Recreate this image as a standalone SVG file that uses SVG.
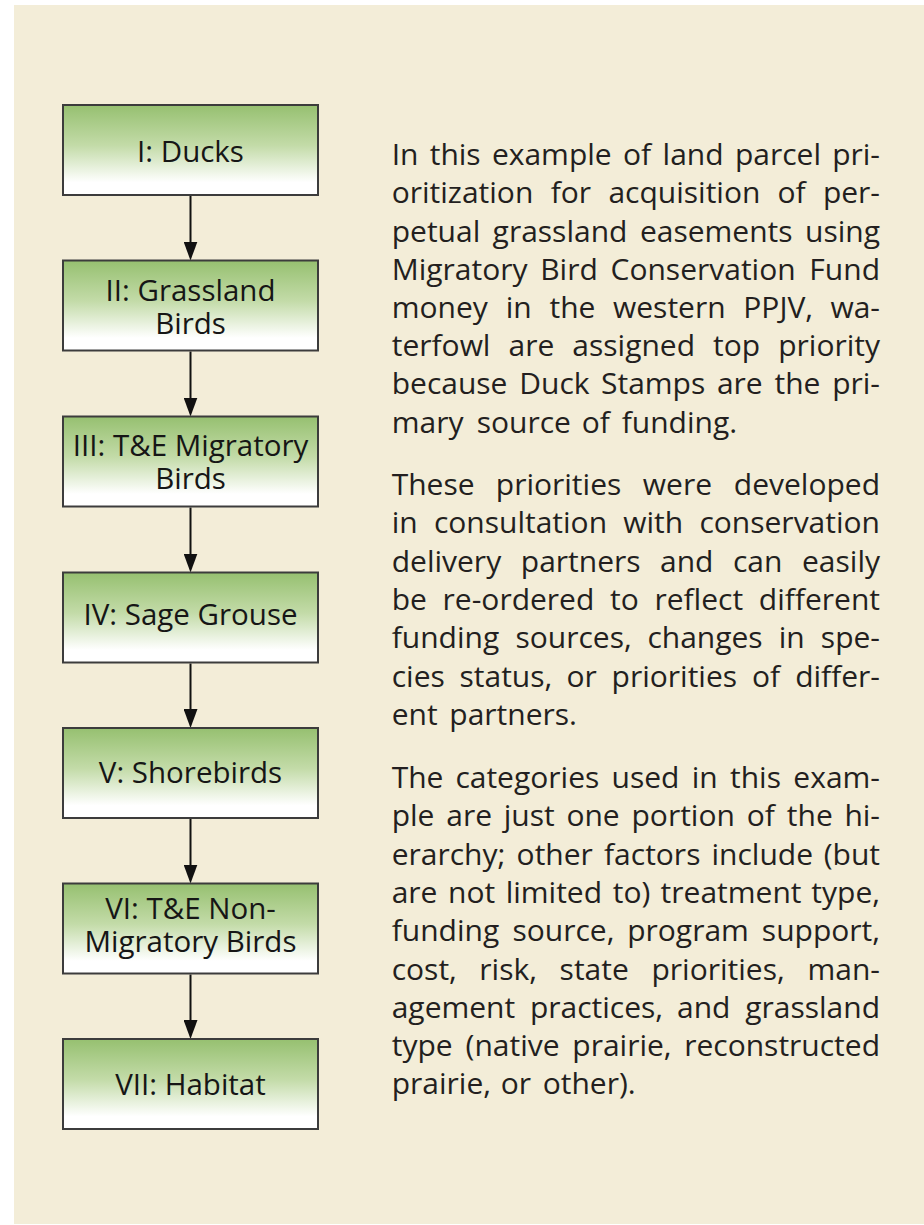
<svg xmlns="http://www.w3.org/2000/svg" width="924" height="1225" viewBox="0 0 924 1225">
<defs>
<linearGradient id="g" x1="0" y1="0" x2="0" y2="1">
<stop offset="0" stop-color="#96C070"/>
<stop offset="0.45" stop-color="#C3DBA8"/>
<stop offset="0.86" stop-color="#FFFFFF"/>
<stop offset="1" stop-color="#FFFFFF"/>
</linearGradient>
<marker id="ah" markerUnits="userSpaceOnUse" markerWidth="19" markerHeight="14" refX="9" refY="7" orient="auto" viewBox="0 0 19 14">
<path d="M0,0 L19,7 L0,14 z" fill="#111"/>
</marker>
<style>
.box{fill:url(#g);stroke:#3c3c3c;stroke-width:2}
.lbl{font-family:"Open Sans","Noto Sans",sans-serif;font-size:29.5px;fill:#161616;text-anchor:middle}
.body{font-family:"Open Sans","Noto Sans",sans-serif;font-size:30px;fill:#231f20}
.e{text-anchor:end}
.conn line{stroke:#111;stroke-width:2;marker-end:url(#ah)}
</style>
</defs>
<rect width="924" height="1225" fill="#ffffff"/>
<rect x="14" y="5" width="910" height="1219" fill="#F3EDD8"/>

<g id="connectors" class="conn">
<line x1="190.5" y1="196" x2="190.5" y2="250.5"/>
<line x1="190.5" y1="351.5" x2="190.5" y2="406.5"/>
<line x1="190.5" y1="507.5" x2="190.5" y2="562.5"/>
<line x1="190.5" y1="663.5" x2="190.5" y2="718"/>
<line x1="190.5" y1="819" x2="190.5" y2="873.5"/>
<line x1="190.5" y1="974.5" x2="190.5" y2="1029"/>
</g>

<g id="n1"><rect class="box" x="63" y="105" width="255" height="90"/><text class="lbl" x="190.5" y="161.5">I: Ducks</text></g>
<g id="n2"><rect class="box" x="63" y="260.5" width="255" height="90"/><text class="lbl" x="190.5" y="300.5">II: Grassland<tspan x="190.5" dy="33">Birds</tspan></text></g>
<g id="n3"><rect class="box" x="63" y="416.5" width="255" height="90"/><text class="lbl" x="190.5" y="456">III: T&amp;E Migratory<tspan x="190.5" dy="33">Birds</tspan></text></g>
<g id="n4"><rect class="box" x="63" y="572.5" width="255" height="90"/><text class="lbl" x="190.5" y="624.5">IV: Sage Grouse</text></g>
<g id="n5"><rect class="box" x="63" y="728" width="255" height="90"/><text class="lbl" x="190.5" y="782.5">V: Shorebirds</text></g>
<g id="n6"><rect class="box" x="63" y="883.5" width="255" height="90"/><text class="lbl" x="190.5" y="918.5">VI: T&amp;E Non-<tspan x="190.5" dy="33">Migratory Birds</tspan></text></g>
<g id="n7"><rect class="box" x="63" y="1039" width="255" height="90"/><text class="lbl" x="190.5" y="1094.5">VII: Habitat</text></g>

<g id="paragraph1" class="body">
<text y="165"><tspan x="391.7">In</tspan><tspan x="429.7">this</tspan><tspan x="491.9">example</tspan><tspan x="623">of</tspan><tspan x="662.6">land</tspan><tspan x="734.9">parcel</tspan><tspan class="e" x="880">pri-</tspan></text>
<text y="203.2"><tspan x="391.7">oritization</tspan><tspan x="550.7">for</tspan><tspan x="608.4">acquisition</tspan><tspan x="777.5">of</tspan><tspan class="e" x="880">per-</tspan></text>
<text y="241.5"><tspan x="391.7">petual</tspan><tspan x="492.6">grassland</tspan><tspan x="639.9">easements</tspan><tspan class="e" x="880">using</tspan></text>
<text y="279.7"><tspan x="391.7">Migratory</tspan><tspan x="540.2">Bird</tspan><tspan x="610.5">Conservation</tspan><tspan class="e" x="880">Fund</tspan></text>
<text y="318"><tspan x="391.7">money</tspan><tspan x="505.7">in</tspan><tspan x="549.5">the</tspan><tspan x="613">western</tspan><tspan x="743.3">PPJV,</tspan><tspan class="e" x="880">wa-</tspan></text>
<text y="356.2"><tspan x="391.7">terfowl</tspan><tspan x="508.6">are</tspan><tspan x="572.3">assigned</tspan><tspan x="713.1">top</tspan><tspan class="e" x="880">priority</tspan></text>
<text y="394.4"><tspan x="391.7">because</tspan><tspan x="519.3">Duck</tspan><tspan x="601">Stamps</tspan><tspan x="716.9">are</tspan><tspan x="774.5">the</tspan><tspan class="e" x="880">pri-</tspan></text>
<text y="432.7"><tspan x="391.7">mary</tspan><tspan x="476.7">source</tspan><tspan x="581.7">of</tspan><tspan x="621.7">funding.</tspan></text>
</g>

<g id="paragraph2" class="body">
<text y="495"><tspan x="391.7">These</tspan><tspan x="495.8">priorities</tspan><tspan x="642.8">were</tspan><tspan class="e" x="880">developed</tspan></text>
<text y="533.3"><tspan x="391.7">in</tspan><tspan x="433.9">consultation</tspan><tspan x="623.2">with</tspan><tspan class="e" x="880">conservation</tspan></text>
<text y="571.6"><tspan x="391.7">delivery</tspan><tspan x="520.8">partners</tspan><tspan x="660">and</tspan><tspan x="733">can</tspan><tspan class="e" x="880">easily</tspan></text>
<text y="609.9"><tspan x="391.7">be</tspan><tspan x="442.6">re-ordered</tspan><tspan x="610.1">to</tspan><tspan x="654.5">reflect</tspan><tspan class="e" x="880">different</tspan></text>
<text y="648.2"><tspan x="391.7">funding</tspan><tspan x="515.5">sources,</tspan><tspan x="647.4">changes</tspan><tspan x="778.8">in</tspan><tspan class="e" x="880">spe-</tspan></text>
<text y="686.5"><tspan x="391.7">cies</tspan><tspan x="459.5">status,</tspan><tspan x="566.5">or</tspan><tspan x="611.6">priorities</tspan><tspan x="751.9">of</tspan><tspan class="e" x="880">differ-</tspan></text>
<text y="724.8"><tspan x="391.7">ent</tspan><tspan x="449.3">partners.</tspan></text>
</g>

<g id="paragraph3" class="body">
<text y="788"><tspan x="391.7">The</tspan><tspan x="455.4">categories</tspan><tspan x="611.5">used</tspan><tspan x="691.7">in</tspan><tspan x="730">this</tspan><tspan class="e" x="880">exam-</tspan></text>
<text y="826.3"><tspan x="391.7">ple</tspan><tspan x="446.3">are</tspan><tspan x="503.8">just</tspan><tspan x="566.4">one</tspan><tspan x="631.5">portion</tspan><tspan x="746.7">of</tspan><tspan x="786.8">the</tspan><tspan class="e" x="880">hi-</tspan></text>
<text y="864.6"><tspan x="391.7">erarchy;</tspan><tspan x="516.6">other</tspan><tspan x="604">factors</tspan><tspan x="711.5">include</tspan><tspan class="e" x="880">(but</tspan></text>
<text y="902.9"><tspan x="391.7">are</tspan><tspan x="448">not</tspan><tspan x="505.7">limited</tspan><tspan x="612.8">to)</tspan><tspan x="660.6">treatment</tspan><tspan class="e" x="880">type,</tspan></text>
<text y="941.2"><tspan x="391.7">funding</tspan><tspan x="512.5">source,</tspan><tspan x="627.2">program</tspan><tspan class="e" x="880">support,</tspan></text>
<text y="979.5"><tspan x="391.7">cost,</tspan><tspan x="479.3">risk,</tspan><tspan x="559.6">state</tspan><tspan x="651.5">priorities,</tspan><tspan class="e" x="880">man-</tspan></text>
<text y="1017.8"><tspan x="391.7">agement</tspan><tspan x="529.9">practices,</tspan><tspan x="677">and</tspan><tspan class="e" x="880">grassland</tspan></text>
<text y="1056.1"><tspan x="391.7">type</tspan><tspan x="465.6">(native</tspan><tspan x="572.3">prairie,</tspan><tspan class="e" x="880">reconstructed</tspan></text>
<text y="1094.4"><tspan x="391.7">prairie,</tspan><tspan x="500.7">or</tspan><tspan x="542.7">other).</tspan></text>
</g>
</svg>
